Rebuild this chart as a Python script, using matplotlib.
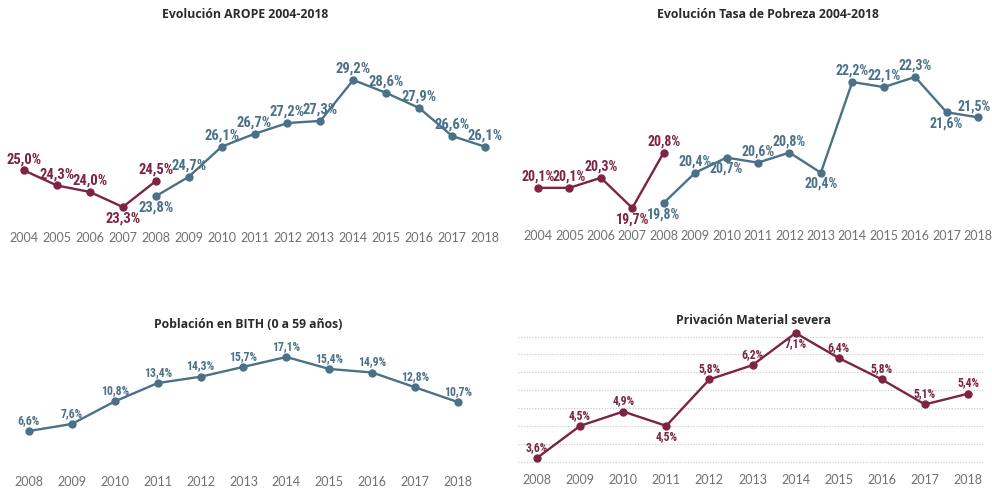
import numpy as np
import matplotlib.pyplot as plt

# ---- data ----
arope_years_a = [2004, 2005, 2006, 2007, 2008]
arope_vals_a = [25.0, 24.3, 24.0, 23.3, 24.5]
arope_years_b = list(range(2008, 2019))
arope_vals_b = [23.8, 24.7, 26.1, 26.7, 27.2, 27.3, 29.2, 28.6, 27.9, 26.6, 26.1]

pob_years_a = [2004, 2005, 2006, 2007, 2008]
pob_vals_a = [20.1, 20.1, 20.3, 19.7, 20.8]
pob_years_b = list(range(2008, 2019))
pob_vals_b = [19.8, 20.4, 20.7, 20.6, 20.8, 20.4, 22.2, 22.1, 22.3, 21.6, 21.5]

bith_years = list(range(2008, 2019))
bith_vals = [6.6, 7.6, 10.8, 13.4, 14.3, 15.7, 17.1, 15.4, 14.9, 12.8, 10.7]

pms_years = list(range(2008, 2019))
pms_vals = [3.6, 4.5, 4.9, 4.5, 5.8, 6.2, 7.1, 6.4, 5.8, 5.1, 5.4]

# which labels sit under their point
arope_below_a = [2007]
arope_below_b = [2008]
pob_below_a = [2007]
pob_below_b = [2008, 2010, 2013, 2017]
pms_below = [2011, 2014]

RED = "#7d2440"
BLUE = "#4b7189"
W, H = 992, 490
LABEL_FONT = ["Roboto Condensed", "Liberation Sans Narrow", "Roboto", "DejaVu Sans"]
TICK_FONT = ["Lato", "DejaVu Sans"]
TITLE_FONT = ["Open Sans", "DejaVu Sans"]

fig = plt.figure(figsize=(W / 100, H / 100), dpi=100)


def make_axes(box, xpx, ypx, years, vmin, vmax):
    # box: (left, top, right, bottom) in pixels from the top-left corner
    l, t, r, b = box
    ax = fig.add_axes([l / W, 1 - b / H, (r - l) / W, (b - t) / H])
    sx = (xpx[1] - xpx[0]) / (years[-1] - years[0])
    ax.set_xlim(years[0] - (xpx[0] - l) / sx, years[-1] + (r - xpx[1]) / sx)
    sy = (ypx[1] - ypx[0]) / (vmax - vmin)
    ax.set_ylim(vmin - (b - ypx[1]) / sy, vmax + (ypx[0] - t) / sy)
    for s in ax.spines.values():
        s.set_visible(False)
    ax.set_yticks([])
    ax.set_xticks(years)
    ax.set_xticklabels([str(y) for y in years], family=TICK_FONT,
                       fontsize=9, color="#707070")
    ax.tick_params(axis="x", length=0, pad=0)
    ax.set_facecolor("none")
    return ax


def series(ax, xs, ys, color, below, fs, off=3, nudge=None):
    nudge = nudge or {}
    ax.plot(xs, ys, color=color, lw=1.7, marker="o", ms=5, clip_on=False,
            zorder=3)
    for x, y in zip(xs, ys):
        lab = f"{y:.1f}%".replace(".", ",")
        dx = nudge.get(x, 0)
        if x in below:
            ax.annotate(lab, (x, y), xytext=(dx, -off), textcoords="offset points",
                        ha="center", va="top", color=color, fontsize=fs,
                        fontweight="bold", family=LABEL_FONT)
        else:
            ax.annotate(lab, (x, y), xytext=(dx, off), textcoords="offset points",
                        ha="center", va="bottom", color=color, fontsize=fs,
                        fontweight="bold", family=LABEL_FONT)


def title(x, y, text):
    fig.text(x / W, 1 - y / H, text, ha="center", va="center", fontsize=8.8,
             fontweight="bold", family=TITLE_FONT, color="#2b2b2b")


# AROPE
yrs = list(range(2004, 2019))
ax1 = make_axes((0, 40, 500, 232), (24, 485), (80, 207), yrs,
                min(arope_vals_a), max(arope_vals_b))
series(ax1, arope_years_a, arope_vals_a, RED, arope_below_a, 10.5)
series(ax1, arope_years_b, arope_vals_b, BLUE, arope_below_b, 10.5)
title(245, 14, "Evolución AROPE 2004-2018")

# Tasa de pobreza
ax2 = make_axes((505, 40, 992, 230), (538, 978), (77, 208), yrs,
                min(pob_vals_a), max(pob_vals_b))
series(ax2, pob_years_a, pob_vals_a, RED, pob_below_a, 10)
series(ax2, pob_years_b, pob_vals_b, BLUE, pob_below_b, 10, nudge={2018: -3})
title(768, 14, "Evolución Tasa de Pobreza 2004-2018")

# BITH
ax3 = make_axes((0, 335, 496, 476), (29, 458), (357, 431), bith_years,
                min(bith_vals), max(bith_vals))
series(ax3, bith_years, bith_vals, BLUE, [], 8.5, off=3)
title(248, 324, "Población en BITH (0 a 59 años)")

# Privación material severa
ax4 = make_axes((518, 330, 985, 474), (537, 968), (333, 458), pms_years,
                min(pms_vals), max(pms_vals))
ax4.set_yticks(np.arange(3.5, 7.01, 0.5))
ax4.tick_params(axis="y", length=0, labelleft=False)
ax4.yaxis.grid(True, color="#c8c8c8", ls=(0, (1, 1.5)), lw=0.8)
ax4.set_axisbelow(True)
series(ax4, pms_years, pms_vals, RED, pms_below, 8.5, off=3)
title(754, 321, "Privación Material severa")

fig.savefig("out.png", dpi=100, facecolor="white")
